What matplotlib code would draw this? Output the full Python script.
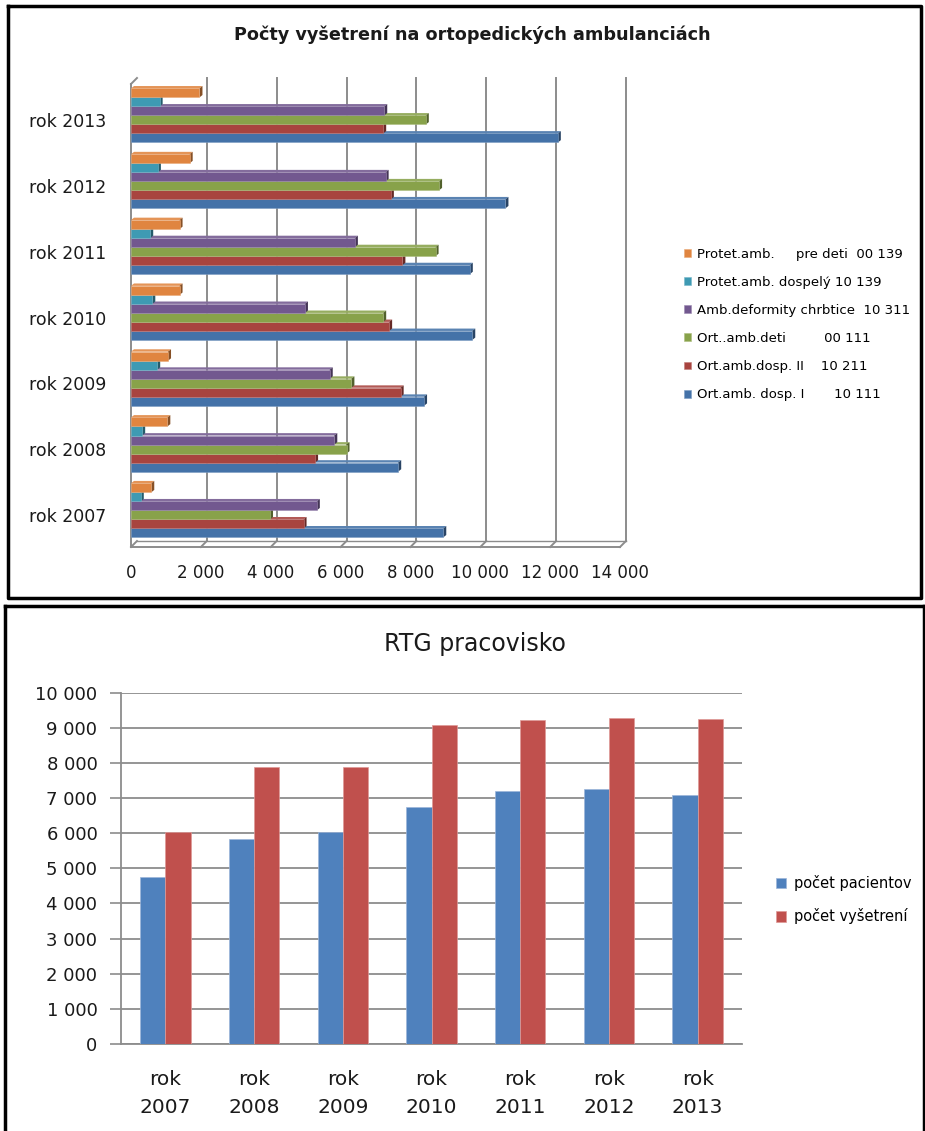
import numpy as np
import matplotlib
matplotlib.use("Agg")
import matplotlib.pyplot as plt
from matplotlib.colors import to_rgb
from matplotlib.patches import Polygon
from matplotlib.lines import Line2D

plt.rcParams['font.family'] = ['DejaVu Sans']

# ---- data: orthopedic clinics (top chart) ----
years = ["rok 2007", "rok 2008", "rok 2009", "rok 2010", "rok 2011", "rok 2012", "rok 2013"]
series_names = [
    "Ort.amb. dosp. I       10 111",
    "Ort.amb.dosp. II    10 211",
    "Ort..amb.deti         00 111",
    "Amb.deformity chrbtice  10 311",
    "Protet.amb. dospelý 10 139",
    "Protet.amb.     pre deti  00 139",
]
ort_dosp_1 = [8940, 7650, 8390, 9770, 9700, 10720, 12220]
ort_dosp_2 = [4940, 5270, 7720, 7390, 7770, 7440, 7220]
ort_deti = [3980, 6170, 6310, 7220, 8720, 8820, 8440]
amb_deform = [5320, 5820, 5690, 4980, 6410, 7290, 7250]
protet_dosp = [280, 320, 750, 610, 550, 770, 820]
protet_deti = [580, 1040, 1060, 1390, 1390, 1680, 1960]
top_colors = ["#4472A8", "#A8443F", "#88A24A", "#72588F", "#3E9AB3", "#E08540"]

# ---- data: RTG (bottom chart) ----
rtg_years = ["rok\n2007", "rok\n2008", "rok\n2009", "rok\n2010", "rok\n2011", "rok\n2012", "rok\n2013"]
pacienti = [4760, 5840, 6040, 6750, 7190, 7260, 7100]
vysetrenia = [6040, 7890, 7890, 9080, 9210, 9270, 9240]

W, H = 925, 1131
fig = plt.figure(figsize=(W / 100, H / 100), dpi=100)


def fx(px):
    return px / W


def fy(py):
    return 1 - py / H


def mix(c, other, t):
    a = np.array(to_rgb(c))
    b = np.array(to_rgb(other))
    return tuple(a * (1 - t) + b * t)


# panel frames
def fline(xs, ys, lw=2.5, color="black"):
    fig.add_artist(Line2D([fx(x) for x in xs], [fy(y) for y in ys], lw=lw, color=color,
                          transform=fig.transFigure))


fline([8, 921, 921, 8, 8], [6, 6, 598, 598, 6])
fline([5, 924], [606, 606])
fline([5, 5], [606, 1131])
fline([924, 924], [606, 1131])

# ---------------- top chart ----------------
ax1 = fig.add_axes([fx(131), fy(547), (620 - 131) / W, (547 - 78) / H])
ybot, ytop = -0.486, 6.64
ax1.set_xlim(0, 14000)
ax1.set_ylim(ybot, ytop)
for s in ax1.spines.values():
    s.set_visible(False)

grid_c = "#8C8C8C"
wx, wy = 171, 0.091  # wall depth offset (data units)
ticks = np.arange(0, 14001, 2000)
for t in ticks:
    ax1.plot([t, t + wx], [ybot, ybot + wy], color=grid_c, lw=1.4, clip_on=False, zorder=1)
    if t > 0:
        ax1.plot([t + wx, t + wx], [ybot + wy, ytop], color=grid_c, lw=1.4, clip_on=False, zorder=1)
ax1.plot([0, 14000], [ybot, ybot], color=grid_c, lw=1.4, clip_on=False, zorder=1)
ax1.plot([wx, 14000 + wx], [ybot + wy, ybot + wy], color=grid_c, lw=1.0, clip_on=False, zorder=1)
ax1.plot([0, 0], [ybot, ytop - wy], color=grid_c, lw=1.4, clip_on=False, zorder=1)
ax1.plot([0, wx], [ytop - wy, ytop], color=grid_c, lw=1.4, clip_on=False, zorder=1)

all_series = [ort_dosp_1, ort_dosp_2, ort_deti, amb_deform, protet_dosp, protet_deti]
h = 0.137
sx, sy = 86, 0.036
cats = np.arange(len(years))
handles = []
for i, (vals, col) in enumerate(zip(all_series, top_colors)):
    y0s = cats - 0.41 + 0.07 + i * h
    z = 10 + 3 * i
    for y0, v in zip(y0s, vals):
        ax1.add_patch(Polygon([(0, y0 + h), (sx, y0 + h + sy), (v + sx, y0 + h + sy), (v, y0 + h)],
                              closed=True, facecolor=mix(col, "white", 0.12), edgecolor="none", zorder=z))
        ax1.add_patch(Polygon([(v, y0), (v + sx, y0 + sy), (v + sx, y0 + h + sy), (v, y0 + h)],
                              closed=True, facecolor=mix(col, "black", 0.4), edgecolor="none", zorder=z + 1))
    b = ax1.barh(y0s, vals, height=h, align="edge", color=col, edgecolor=mix(col, "white", 0.3),
                 linewidth=0.4, zorder=z + 2, label=series_names[i])
    handles.append(b)

ax1.set_yticks(cats)
ax1.set_yticklabels(years, fontsize=12.5, color="#1a1a1a")
ax1.tick_params(axis="y", length=0, pad=18)
ax1.set_xticks(ticks)
ax1.set_xticklabels([f"{t:,}".replace(",", " ") for t in ticks], fontsize=12, color="#1a1a1a")
ax1.tick_params(axis="x", length=0, pad=12)

fig.text(fx(472), fy(35), "Počty vyšetrení na ortopedických ambulanciách", ha="center", va="center",
         fontsize=12.7, fontweight="bold", color="#1a1a1a")

fig.legend(handles[::-1], series_names[::-1], loc="upper left", bbox_to_anchor=(fx(684), fy(248)),
           frameon=False, fontsize=9.5, handlelength=0.55, handleheight=0.55, handletextpad=0.4,
           labelspacing=1.14, borderpad=0, borderaxespad=0)

# ---------------- bottom chart ----------------
ax2 = fig.add_axes([fx(121), fy(1044), (742 - 121) / W, (1044 - 692.7) / H])
x = np.arange(len(rtg_years))
w = 0.285
ax2.bar(x - w / 2, pacienti, width=w, color="#4F81BD", edgecolor="#9DB6DA", linewidth=0.5,
        label="počet pacientov", zorder=3)
ax2.bar(x + w / 2, vysetrenia, width=w, color="#C0504D", edgecolor="#DE9A98", linewidth=0.5,
        label="počet vyšetrení", zorder=3)
ax2.set_xlim(-0.5, len(rtg_years) - 0.5)
ax2.set_ylim(0, 10000)
yt = np.arange(0, 10001, 1000)
ax2.set_yticks(yt)
ax2.set_yticklabels([f"{t:,}".replace(",", " ") for t in yt], fontsize=13, color="#1a1a1a")
ax2.yaxis.grid(True, color="#8C8C8C", lw=1.3, zorder=0)
ax2.tick_params(axis="y", length=8, width=1.2, color="#8C8C8C", pad=9)
ax2.set_xticks(x)
ax2.set_xticklabels(rtg_years, fontsize=14.5, color="#1a1a1a", linespacing=1.55)
ax2.tick_params(axis="x", length=0, pad=19)
for k in ["top", "right"]:
    ax2.spines[k].set_visible(False)
for k in ["left", "bottom"]:
    ax2.spines[k].set_color("#8C8C8C")
    ax2.spines[k].set_linewidth(1.3)

fig.text(fx(475), fy(644), "RTG pracovisko", ha="center", va="center", fontsize=17, color="#1a1a1a")

fig.legend(*ax2.get_legend_handles_labels(), loc="upper left", bbox_to_anchor=(fx(776), fy(875)),
           frameon=False, fontsize=10.5, handlelength=0.7, handleheight=0.7, handletextpad=0.5,
           labelspacing=1.2, borderpad=0, borderaxespad=0)

fig.savefig("out.png", dpi=100)
